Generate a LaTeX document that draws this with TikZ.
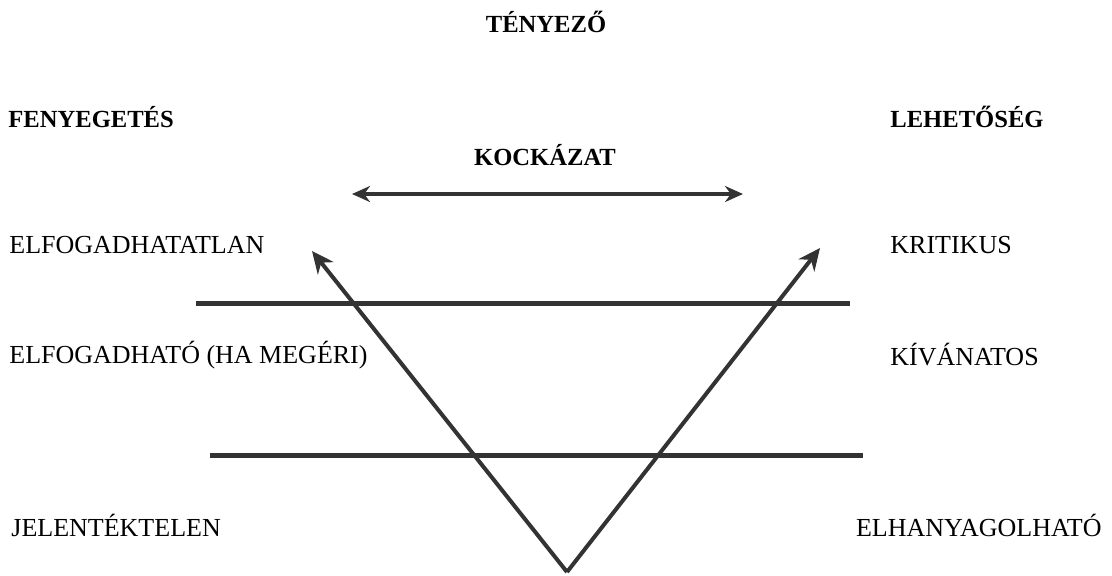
\documentclass[tikz,border=0pt]{standalone}
\usepackage{fontspec}
\setmainfont{Liberation Serif}
\usetikzlibrary{arrows.meta}
\tikzstyle{szint}=[inner sep=0pt, font=\fontsize{13}{15}\selectfont]
\tikzstyle{fej}=[inner sep=0pt, font=\fontsize{12.3}{14}\selectfont\bfseries]
\tikzstyle{hatar}=[line width=2.5pt, draw=black!80]
\tikzstyle{nyil}=[line width=2pt, draw=black!80, -{Stealth[length=11pt, width=10pt]}]
\tikzstyle{kettos}=[line width=2pt, draw=black!80, {Stealth[length=9pt, width=8pt]}-{Stealth[length=9pt, width=8pt]}]

\begin{document}
\begin{tikzpicture}[x=0.5pt, y=-0.5pt]
                \useasboundingbox (0,0) rectangle (1112,575);
                \node[fej] (t) at (546, 22) {TÉNYEZŐ};
                \node[fej, anchor=west] (f) at (8, 117) {FENYEGETÉS};
                \node[fej, anchor=west] (l) at (890, 117) {LEHETŐSÉG};
                \node[fej] (k) at (545, 155) {KOCKÁZAT};
                \node[szint, anchor=west] (e1) at (9, 245) {ELFOGADHATATLAN};
                \node[szint, anchor=west] (e2) at (9, 355) {ELFOGADHATÓ (HA MEGÉRI)};
                \node[szint, anchor=west] (e3) at (11, 525) {JELENTÉKTELEN};
                \node[szint, anchor=west] (j1) at (890, 245) {KRITIKUS};
                \node[szint, anchor=west] (j2) at (890, 355) {KÍVÁNATOS};
                \node[szint, anchor=east] (j3) at (1102, 525) {ELHANYAGOLHATÓ};
                \coordinate (kb) at (352, 194);
                \coordinate (kj) at (743, 194);
                \coordinate (h1b) at (196, 303);
                \coordinate (h1j) at (850, 303);
                \coordinate (h2b) at (210, 455);
                \coordinate (h2j) at (863, 455);
                \coordinate (v) at (567, 572);
                \coordinate (vb) at (312, 251);
                \coordinate (vj) at (820, 248);
                \draw[kettos] (kb)--(kj);
                \draw[hatar] (h1b)--(h1j) (h2b)--(h2j);
                \draw[nyil] (v)--(vb);
                \draw[nyil] (v)--(vj);
            \end{tikzpicture}
\end{document}
